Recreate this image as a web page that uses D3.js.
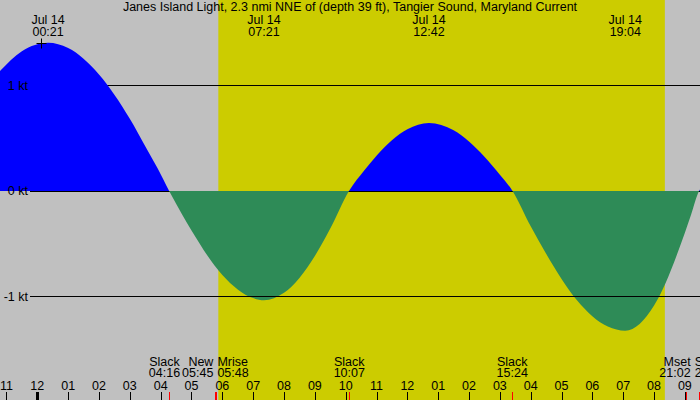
<!DOCTYPE html>
<html>
<head>
<meta charset="utf-8">
<script src="https://cdn.jsdelivr.net/npm/d3@7"></script>
<style>
  body { margin: 0; }
  svg { display: block; font-family: "Liberation Sans", Arial, sans-serif; font-size: 12.5px; }
</style>
</head>
<body>
<div id="chart"></div>
<script>
// chart size
var width = 700, height = 400;

var title = "Janes Island Light, 2.3 nmi NNE of (depth 39 ft), Tangier Sound, Maryland Current";

// time is in hours from midnight of Jul 14
var timeStart = -1.21, timeEnd = 21.49;

// current curve (hours, knots)
var curveHours = [-1.25, -0.5, 0.35, 1, 2, 3, 3.5, 3.9, 4.267, 4.7, 5, 6, 7, 7.35, 8, 9, 9.5, 10.117,
                  10.6, 11, 12, 12.7, 13.5, 14.5, 15.0, 15.4, 16.0, 16.5, 17.5, 18.5, 19.067, 20, 21, 21.2, 21.47, 21.55];
var curveKnots = [1.12, 1.32, 1.40, 1.35, 1.10, 0.68, 0.42, 0.21, 0, -0.23, -0.38, -0.80, -1.02, -1.04, -0.97, -0.62, -0.36, 0,
                  0.19, 0.33, 0.58, 0.64, 0.57, 0.32, 0.15, 0, -0.34, -0.60, -1.04, -1.29, -1.33, -1.09, -0.40, -0.23, 0, 0.03];

// max / min labels at the top
var peakHours = [0.35, 7.35, 12.7, 19.067];
var peakDates = ["Jul 14", "Jul 14", "Jul 14", "Jul 14"];
var peakTimes = ["00:21", "07:21", "12:42", "19:04"];

// events at the bottom
var eventHours = [4.267, 5.75, 5.8, 10.117, 15.4, 21.033, 21.47];
var eventNames = ["Slack", "New", "Mrise", "Slack", "Slack", "Mset", "Slack"];
var eventTimes = ["04:16", "05:45", "05:48", "10:07", "15:24", "21:02", "21:28"];

// daylight
var sunrise = 5.87, sunset = 20.35;

// hour ticks
var hourTicks = [-1, 0, 1, 2, 3, 4, 5, 6, 7, 8, 9, 10, 11, 12, 13, 14, 15, 16, 17, 18, 19, 20, 21];
var hourLabels = ["11", "12", "01", "02", "03", "04", "05", "06", "07", "08", "09", "10",
                  "11", "12", "01", "02", "03", "04", "05", "06", "07", "08", "09"];

// knot lines
var knotLines = [1, 0, -1];
var knotLabels = ["1 kt", "0 kt", "-1 kt"];

var svg = d3.select("#chart")
    .append("svg")
    .attr("width", width)
    .attr("height", height);

var x = d3.scaleLinear().domain([timeStart, timeEnd]).range([0, width]);
var y = d3.scaleLinear().domain([-1, 1]).range([296, 85]);

function py(v) { return Math.round(y(v)) + 0.5; }

// background: night gray, day yellow
svg.append("rect").attr("width", width).attr("height", height).attr("fill", "#c0c0c0");
svg.append("rect")
    .attr("x", x(sunrise)).attr("y", 0)
    .attr("width", x(sunset) - x(sunrise)).attr("height", height)
    .attr("fill", "#cccc00");

var points = curveHours.map(function (h, i) { return [h, curveKnots[i]]; });
var y0 = Math.round(y(0));

var area = d3.area()
    .curve(d3.curveMonotoneX)
    .x(function (d) { return x(d[0]); })
    .y0(y0)
    .y1(function (d) { return y(d[1]); });

var defs = svg.append("defs");
defs.append("clipPath").attr("id", "above")
    .append("rect").attr("x", 0).attr("y", 0).attr("width", width).attr("height", y0);
defs.append("clipPath").attr("id", "below")
    .append("rect").attr("x", 0).attr("y", y0).attr("width", width).attr("height", height - y0);

// zero line first, ebb fill covers it
svg.append("line")
    .attr("x1", 30).attr("x2", width)
    .attr("y1", py(0)).attr("y2", py(0))
    .attr("stroke", "black");

svg.append("path")
    .datum(points)
    .attr("d", area)
    .attr("clip-path", "url(#below)")
    .attr("fill", "#2e8b57");

// other knot lines
knotLines.forEach(function (k) {
    if (k === 0) return;
    svg.append("line")
        .attr("x1", 30).attr("x2", width)
        .attr("y1", py(k)).attr("y2", py(k))
        .attr("stroke", "black");
});

// flood fill on top
svg.append("path")
    .datum(points)
    .attr("d", area)
    .attr("clip-path", "url(#above)")
    .attr("fill", "#0000ff");

// knot labels
svg.selectAll(".knot_label")
    .data(knotLines)
    .join("text")
    .attr("class", "knot_label")
    .attr("x", 28)
    .attr("y", function (d) { return y(d); })
    .attr("dy", "0.36em")
    .attr("text-anchor", "end")
    .text(function (d, i) { return knotLabels[i]; });

// title
svg.append("text")
    .attr("x", width / 2).attr("y", 11)
    .attr("text-anchor", "middle")
    .text(title);

// peak labels
peakHours.forEach(function (h, i) {
    svg.append("text")
        .attr("x", x(h)).attr("y", 24)
        .attr("text-anchor", "middle")
        .text(peakDates[i]);
    svg.append("text")
        .attr("x", x(h)).attr("y", 36)
        .attr("text-anchor", "middle")
        .text(peakTimes[i]);
});

// + mark on the first max
var px0 = Math.round(x(peakHours[0]) - 7) + 0.5, pyMark = Math.round(y(curveKnots[2])) + 0.5;
svg.append("path")
    .attr("d", "M" + (px0 - 5) + "," + pyMark + "H" + (px0 + 5) + "M" + px0 + "," + (pyMark - 5) + "V" + (pyMark + 5))
    .attr("stroke", "black");

// hour ticks and labels
svg.selectAll(".hour_tick")
    .data(hourTicks)
    .join("line")
    .attr("class", "hour_tick")
    .attr("x1", function (d) { return Math.round(x(d)) + 0.5; })
    .attr("x2", function (d) { return Math.round(x(d)) + 0.5; })
    .attr("y1", 392).attr("y2", height)
    .attr("stroke", "black")
    .attr("stroke-width", function (d) { return d === 0 ? 3 : 1; });

svg.selectAll(".hour_label")
    .data(hourTicks)
    .join("text")
    .attr("class", "hour_label")
    .attr("x", function (d) { return x(d); })
    .attr("y", 390)
    .attr("text-anchor", "middle")
    .text(function (d, i) { return hourLabels[i]; });

// event ticks in red
svg.selectAll(".event_tick")
    .data(eventHours)
    .join("line")
    .attr("class", "event_tick")
    .attr("x1", function (d) { return Math.round(x(d)) + 0.5; })
    .attr("x2", function (d) { return Math.round(x(d)) + 0.5; })
    .attr("y1", 392).attr("y2", height)
    .attr("stroke", "red");

// event labels: overlapping neighbours meet at their midpoint,
// then a centred label is nudged left if it still touches the next one
var groups = eventHours.map(function (h, i) {
    var g = svg.append("g");
    g.append("text").attr("y", 366).text(eventNames[i]);
    g.append("text").attr("y", 377).text(eventTimes[i]);
    var w = d3.max(g.selectAll("text").nodes(), function (n) { return n.getComputedTextLength(); });
    return {g: g, w: w, ax: x(h), anchor: "middle"};
});
function extent(d) {
    if (d.anchor === "end") return [d.ax - d.w, d.ax];
    if (d.anchor === "start") return [d.ax, d.ax + d.w];
    return [d.ax - d.w / 2, d.ax + d.w / 2];
}
for (var i = 0; i < groups.length - 1; i++) {
    var a = groups[i], b = groups[i + 1];
    if (extent(a)[1] > extent(b)[0]) {
        var mid = (a.ax + b.ax) / 2;
        a.anchor = "end"; a.ax = mid - 2;
        b.anchor = "start"; b.ax = mid + 2;
    }
}
for (var j = groups.length - 2; j >= 0; j--) {
    var over = extent(groups[j])[1] + 2 - extent(groups[j + 1])[0];
    if (over > 0 && groups[j].anchor === "middle") groups[j].ax -= over;
}
groups.forEach(function (d) {
    d.g.selectAll("text").attr("x", d.ax).attr("text-anchor", d.anchor);
});
</script>
</body>
</html>
